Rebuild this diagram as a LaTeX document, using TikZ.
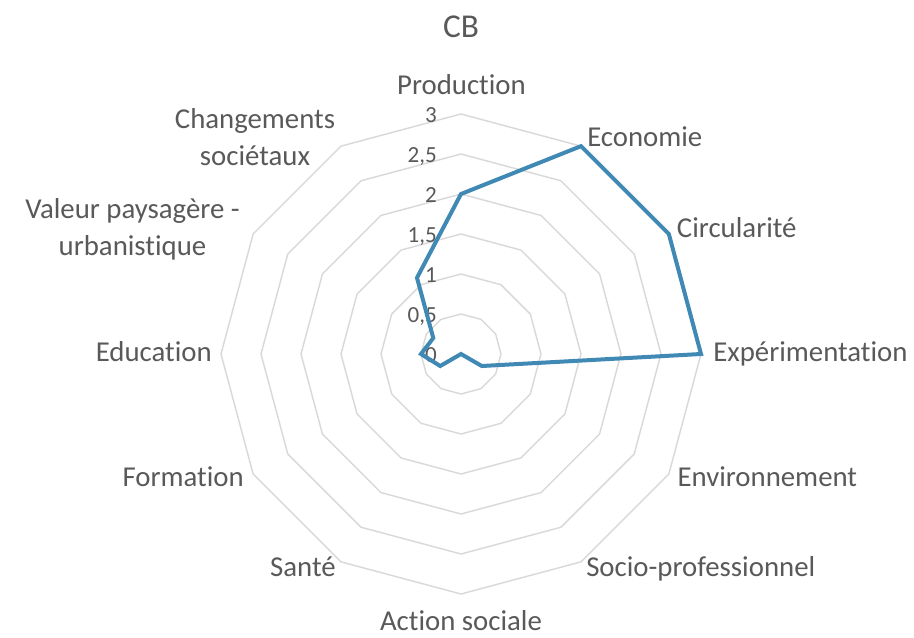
\documentclass[tikz,border=0pt]{standalone}
\usepackage{fontspec}
\setmainfont{Carlito}[Ligatures=NoCommon]
\usepackage{tikz}
\definecolor{txtgray}{HTML}{595959}
\definecolor{gridgray}{HTML}{D9D9D9}
\definecolor{seriesblue}{RGB}{64,137,181}
\tikzset{
  catlabel/.style={text=txtgray,font=\fontsize{21.6}{27.75}\selectfont,inner sep=0pt},
  ticklabel/.style={text=txtgray,font=\fontsize{17.3}{20}\selectfont,inner sep=0pt,anchor=base east},
}

\begin{document}
\begin{tikzpicture}[x=0.75pt,y=0.75pt]
\useasboundingbox (-461,-283) rectangle (453,354);
\foreach \r in {40,80,...,240}
  \draw[gridgray,line width=1.1pt] (90:\r) \foreach \a in {60,30,...,-240} {-- (\a:\r)} -- cycle;
\foreach \v/\t in {0/0,40/{0,5},80/1,120/{1,5},160/2,200/{2,5},240/3}
  \node[ticklabel] at (-24,\v-8.5) {\t};
\coordinate (prod) at (90:160);
\coordinate (econ) at (60:240);
\coordinate (circ) at (30:240);
\coordinate (expe) at (0:240);
\coordinate (envi) at (-30:24);
\coordinate (socio) at (-60:0);
\coordinate (actsoc) at (-90:0);
\coordinate (sante) at (-120:0);
\coordinate (form) at (-150:24);
\coordinate (educ) at (180:40);
\coordinate (valeur) at (150:32);
\coordinate (chang) at (120:88);
\draw[seriesblue,line width=3pt] (prod) -- (econ) -- (circ) -- (expe) -- (envi) -- (socio) -- (actsoc) -- (sante) -- (form) -- (educ) -- (valeur) -- (chang) -- cycle;
\node[text=txtgray,font=\fontsize{25}{30}\selectfont,inner sep=0pt,anchor=base] (title) at (0,316.7) {CB};
\node[catlabel,anchor=base] (l-prod) at (0.5,260) {Production};
\node[catlabel,anchor=base west] (l-econ) at (126,207.3) {Economie};
\node[catlabel,anchor=base west] (l-circ) at (215.7,116.7) {Circularité};
\node[catlabel,anchor=base west] (l-expe) at (252,-7.7) {Expérimentation};
\node[catlabel,anchor=base west] (l-envi) at (216.3,-132.7) {Environnement};
\node[catlabel,anchor=base west] (l-socio) at (125,-222.7) {Socio-professionnel};
\node[catlabel,anchor=base] (l-actsoc) at (0,-276.7) {Action sociale};
\node[catlabel,anchor=base east] (l-sante) at (-125,-222.7) {Santé};
\node[catlabel,anchor=base east] (l-form) at (-217,-132.7) {Formation};
\node[catlabel,anchor=base east] (l-educ) at (-249,-7.7) {Education};
\node[catlabel,anchor=base,align=center] (l-valeur) at (-328.5,99) {Valeur paysagère -\\urbanistique};
\node[catlabel,anchor=base,align=center] (l-chang) at (-206,189) {Changements\\sociétaux};
\end{tikzpicture}
\end{document}
